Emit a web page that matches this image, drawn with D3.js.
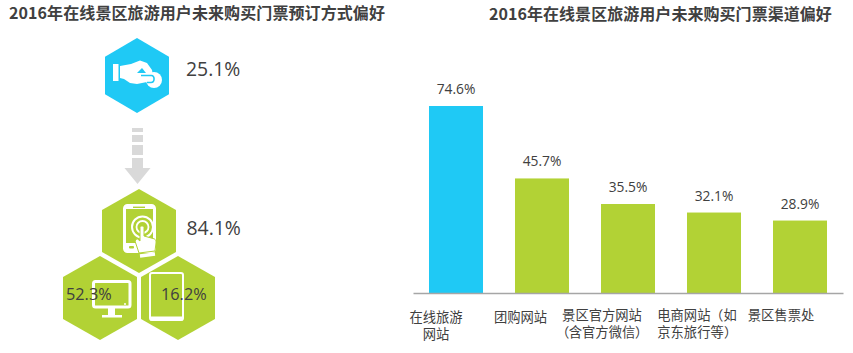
<!DOCTYPE html>
<html>
<head>
<meta charset="UTF-8"/>
<title>2016年在线景区旅游用户未来购买门票偏好</title>
<script src="https://d3js.org/d3.v7.min.js"></script>
<style>
    /* the brackets in the original sit centred in their cell, as in the TC font */
    @font-face { font-family: "CatBrackets"; src: local("Noto Sans CJK TC Regular"), local("NotoSansCJKtc-Regular"), local("Noto Sans CJK TC"); unicode-range: U+FF08-FF09; }
    body { margin: 0; background: #fff; overflow: hidden; }
    svg { display: block; }
    text { fill: #404040; }
    .title { font-family: "Noto Sans CJK SC", sans-serif; font-size: 16px; font-weight: 700; }
    .num { font-family: "Open Sans", sans-serif; }
    .cat { font-family: "CatBrackets", "Noto Sans CJK SC", sans-serif; font-size: 13.3px; }
</style>
</head>
<body>
<script>
    //chart data
    var leftTitle = "2016年在线景区旅游用户未来购买门票预订方式偏好";
    var rightTitle = "2016年在线景区旅游用户未来购买门票渠道偏好";
    var bookingLabels = ["25.1%", "84.1%", "52.3%", "16.2%"];
    var channelNames = [
        ["在线旅游", "网站"],
        ["团购网站"],
        ["景区官方网站", "（含官方微信）"],
        ["电商网站（如", "京东旅行等）"],
        ["景区售票处"]
    ];
    var channelValues = [74.6, 45.7, 35.5, 32.1, 28.9];

    var w = 853;
    var h = 353;
    var blue = "#1fc9f5";
    var green = "#b2d235";
    var grey = "#d9d9d9";

    var svg = d3.select("body").append("svg")
        .attr("width", w)
        .attr("height", h);

    //titles
    svg.append("text").attr("class", "title").attr("x", 9).attr("y", 19)
        .attr("letter-spacing", "0.09px").text(leftTitle);
    svg.append("text").attr("class", "title").attr("x", 489).attr("y", 20)
        .attr("letter-spacing", "0.05px").text(rightTitle);

    //---- bar chart on the right ----
    var baseline = 293;
    var x = d3.scaleBand()
        .domain(d3.range(channelValues.length))
        .range([413, 843])
        .paddingInner(0.372)
        .paddingOuter(0.186);
    var y = d3.scaleLinear()
        .domain([0, 74.6])
        .range([baseline, 106]);

    svg.selectAll("rect.bar")
        .data(channelValues)
        .enter()
        .append("rect")
        .attr("class", "bar")
        .attr("x", function (d, i) { return x(i); })
        .attr("y", function (d) { return y(d); })
        .attr("width", x.bandwidth())
        .attr("height", function (d) { return baseline - y(d); })
        .attr("fill", function (d, i) { return i == 0 ? blue : green; });

    svg.selectAll("text.val")
        .data(channelValues)
        .enter()
        .append("text")
        .attr("class", "num val")
        .attr("x", function (d, i) { return x(i) + x.bandwidth() / 2; })
        .attr("y", function (d) { return y(d) - 12; })
        .attr("text-anchor", "middle")
        .attr("font-size", "13.8px")
        .text(function (d) { return d.toFixed(1) + "%"; });

    //x axis, labels sit a bit left of their bars in the original
    var labelShift = [-20, -21.5, -26, -17, -19];
    var labelTop = [322, 322, 320, 320, 320];
    var xAxis = d3.axisBottom(x).tickSize(0).tickFormat("");
    var axisG = svg.append("g")
        .attr("transform", "translate(0," + baseline + ")")
        .call(xAxis);
    axisG.select(".domain").attr("stroke", "#a6a6a6").attr("stroke-width", 1.5);

    channelNames.forEach(function (lines, i) {
        var label = svg.append("text")
            .attr("class", "cat")
            .attr("text-anchor", "middle");
        lines.forEach(function (line, j) {
            label.append("tspan")
                .attr("x", x(i) + x.bandwidth() / 2 + labelShift[i])
                .attr("y", labelTop[i] + j * 17)
                .text(line);
        });
    });

    //---- hexagons on the left ----
    var hexLine = d3.line();
    function hexagon(cx, cy, rx, ry, fill) {
        var side = ry * 0.5;
        svg.append("path")
            .attr("d", hexLine([
                [cx, cy - ry], [cx + rx, cy - side], [cx + rx, cy + side],
                [cx, cy + ry], [cx - rx, cy + side], [cx - rx, cy - side]
            ]) + "Z")
            .attr("fill", fill);
    }
    hexagon(137, 75.5, 32, 37.5, blue);
    hexagon(139, 231, 37, 42, green);
    hexagon(100, 298, 37, 42, green);
    hexagon(178, 298, 37, 42, green);

    //arrow between the two groups
    [[128, 4], [135, 7], [145, 10], [158, 11]].forEach(function (s) {
        svg.append("rect")
            .attr("x", 132).attr("y", s[0])
            .attr("width", 11).attr("height", s[1])
            .attr("fill", grey);
    });
    svg.append("path").attr("d", "M124.5,168H150.5L137.5,184Z").attr("fill", grey);

    //hand and coin icon
    var icons = svg.append("g");
    icons.append("rect").attr("x", 113).attr("y", 64).attr("width", 5.5).attr("height", 17).attr("fill", "#fff");
    icons.append("path")
        .attr("d", "M120,66L131,64L140,60.5L147,63L152,70L153,76L147,82L137,84L130,83L124,79L120,78Z")
        .attr("fill", "#fff");
    icons.append("circle").attr("cx", 154).attr("cy", 80).attr("r", 8).attr("fill", "#fff");
    icons.append("path").attr("d", "M137,73L142,68L146,73Z").attr("fill", blue);
    icons.append("path")
        .attr("d", "M141,75.5H151.5C155,75.5 155,82.5 151,82.5H147")
        .attr("fill", "none").attr("stroke", blue).attr("stroke-width", 1.6);

    //phone and finger icon
    icons.append("rect").attr("x", 124.5).attr("y", 205.5).attr("width", 30).attr("height", 46).attr("rx", 3)
        .attr("fill", "none").attr("stroke", "#fff").attr("stroke-width", 3);
    icons.append("rect").attr("x", 125).attr("y", 243).attr("width", 29).attr("height", 8).attr("fill", "#fff");
    icons.append("rect").attr("x", 125).attr("y", 206).attr("width", 29).attr("height", 3).attr("fill", "#fff");
    icons.append("rect").attr("x", 133).attr("y", 206.6).attr("width", 12).attr("height", 1.4).attr("fill", green);
    icons.append("rect").attr("x", 129).attr("y", 246).attr("width", 5).attr("height", 2.5).attr("rx", 1).attr("fill", green);
    icons.append("circle").attr("cx", 142.5).attr("cy", 227).attr("r", 10.5)
        .attr("fill", "none").attr("stroke", "#fff").attr("stroke-width", 2);
    icons.append("circle").attr("cx", 142.5).attr("cy", 227).attr("r", 6)
        .attr("fill", "none").attr("stroke", "#fff").attr("stroke-width", 1.8);
    icons.append("path")
        .attr("d", "M139,253L135,241L137,238.5L140,241V227.5C140,225.5 144,225.5 144,227.5V236L153,238.5C156,239 156,241 156,243L155,251Z")
        .attr("fill", "#fff").attr("stroke", green).attr("stroke-width", 1);
    icons.append("path").attr("d", "M140,256L155,254")
        .attr("stroke", "#fff").attr("stroke-width", 3.5);

    //monitor icon
    icons.append("rect").attr("x", 93.5).attr("y", 281.5).attr("width", 36.5).attr("height", 25.5).attr("rx", 2)
        .attr("fill", "none").attr("stroke", "#fff").attr("stroke-width", 3);
    icons.append("circle").attr("cx", 125).attr("cy", 304).attr("r", 1).attr("fill", "#fff");
    icons.append("rect").attr("x", 108).attr("y", 308).attr("width", 7).attr("height", 7.5).attr("fill", "#fff");
    icons.append("rect").attr("x", 102).attr("y", 315).attr("width", 20).attr("height", 2.5).attr("fill", "#fff");

    //tablet icon
    icons.append("rect").attr("x", 150).attr("y", 273).attr("width", 33).attr("height", 47).attr("rx", 2)
        .attr("fill", "none").attr("stroke", "#fff").attr("stroke-width", 2);
    icons.append("rect").attr("x", 150).attr("y", 316.5).attr("width", 33).attr("height", 4).attr("fill", "#fff");

    //percent labels next to the hexagons
    var labelSpots = [[186, 76, 19.4], [186.5, 235, 19.4], [66, 300, 16.3], [161, 300, 16.3]];
    svg.selectAll("text.book")
        .data(bookingLabels)
        .enter()
        .append("text")
        .attr("class", "num book")
        .attr("x", function (d, i) { return labelSpots[i][0]; })
        .attr("y", function (d, i) { return labelSpots[i][1]; })
        .attr("font-size", function (d, i) { return labelSpots[i][2] + "px"; })
        .text(function (d) { return d; });
</script>
</body>
</html>
